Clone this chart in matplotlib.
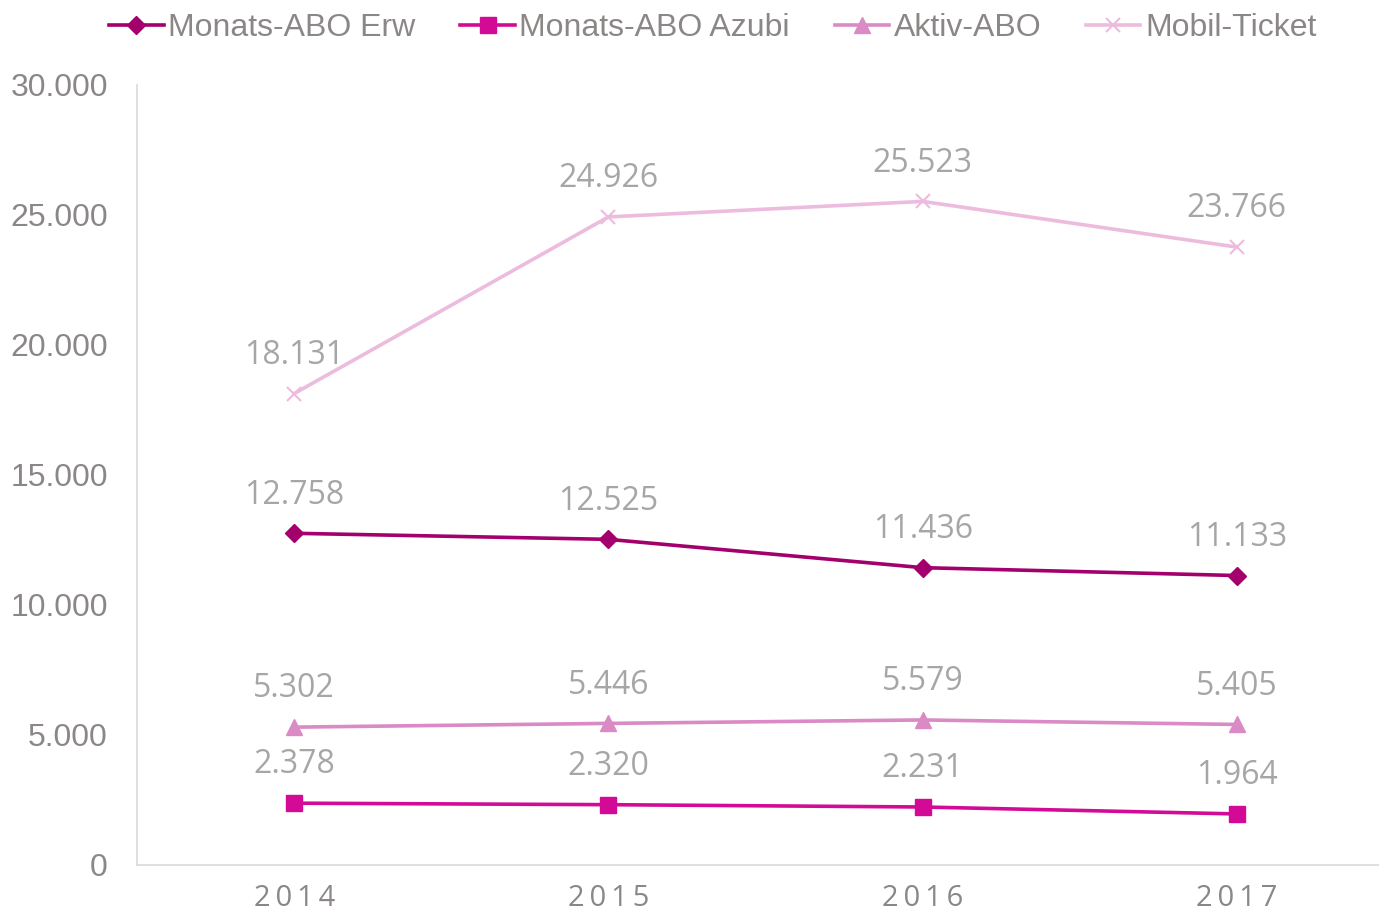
import numpy as np
import matplotlib.pyplot as plt

years = ["2014", "2015", "2016", "2017"]
erw = [12758, 12525, 11436, 11133]
azubi = [2378, 2320, 2231, 1964]
aktiv = [5302, 5446, 5579, 5405]
mobil = [18131, 24926, 25523, 23766]

series = [
    ("Monats-ABO Erw", erw, "#A3006D", "D", 9),
    ("Monats-ABO Azubi", azubi, "#D20A96", "s", 11),
    ("Aktiv-ABO", aktiv, "#DA8AC4", "^", 12),
    ("Mobil-Ticket", mobil, "#ECBBDE", "x", 10),
]

text_grey = "#8C8787"
label_grey = "#A6A6A6"

W, H = 1379, 916
fig = plt.figure(figsize=(W / 100, H / 100), dpi=100)
ax = fig.add_axes([137 / W, 1 - 865 / H, (1394 - 137) / W, (865 - 85) / H])

x = np.arange(len(years))
handles = []
for name, vals, col, mk, ms in series:
    if mk == "x":
        h, = ax.plot(x, vals, color=col, lw=2.6, marker=mk, ms=ms, mew=1.5, label=name)
    else:
        h, = ax.plot(x, vals, color=col, lw=2.6, marker=mk, ms=ms, label=name)
    handles.append(h)
    for xi, v in zip(x, vals):
        ax.annotate(f"{v:,}".replace(",", "."), (xi, v), xytext=(0, 27.5),
                    textcoords="offset points", ha="center", va="center",
                    fontsize=23, color=label_grey, family="Open Sans")

ax.set_xlim(-0.5, 3.5)
ax.set_ylim(0, 30000)
ax.set_yticks(np.arange(0, 30001, 5000))
ax.set_yticklabels([f"{v:,}".replace(",", ".") for v in range(0, 30001, 5000)],
                   fontsize=23, color=text_grey, family="Liberation Sans")
ax.set_xticks(x)
# letter-spaced year labels
ax.set_xticklabels(["\u2009".join(y) for y in years], fontsize=21,
                   color=text_grey, family=["Open Sans", "DejaVu Sans"])
ax.tick_params(length=0)
ax.tick_params(axis="x", pad=14)
ax.tick_params(axis="y", pad=21)
for s in ["top", "right"]:
    ax.spines[s].set_visible(False)
for s in ["left", "bottom"]:
    ax.spines[s].set_color("#D9D9D9")
    ax.spines[s].set_linewidth(1.2)

leg = fig.legend(handles=handles, loc="center", bbox_to_anchor=(0.517, 1 - 28 / H),
                 ncol=4, frameon=False, handlelength=1.7,
                 handletextpad=0.15, columnspacing=1.4,
                 prop={"family": "Liberation Sans", "size": 23})
for t in leg.get_texts():
    t.set_color(text_grey)

fig.savefig("out.png", dpi=100)
